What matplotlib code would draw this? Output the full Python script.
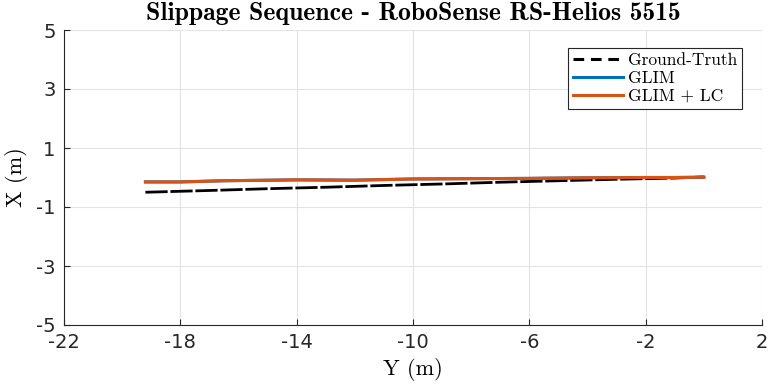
import matplotlib
matplotlib.use("Agg")
import matplotlib.pyplot as plt
from matplotlib.lines import Line2D

gt_y = [-19.2, -17.0, -15.0, -13.0, -11.0, -9.0, -7.0, -5.0, -3.0, -1.0, 0.0]
gt_x = [-0.50, -0.44, -0.38, -0.33, -0.27, -0.22, -0.16, -0.11, -0.06, -0.02, 0.02]

glim_y = [-19.2, -18.0, -16.5, -14.0, -12.0, -10.0, -8.0, -6.0, -4.0, -2.0, -1.0, 0.0]
glim_x = [-0.15, -0.15, -0.11, -0.08, -0.09, -0.05, -0.04, -0.03, -0.01, 0.00, 0.00, 0.01]

lc_y = [-19.2, -18.0, -16.5, -14.0, -12.0, -10.0, -8.0, -6.0, -4.0, -2.0, -1.0, 0.0]
lc_x = [-0.15, -0.15, -0.11, -0.08, -0.09, -0.05, -0.04, -0.03, -0.01, 0.00, 0.00, 0.01]

xticks = [-22, -18, -14, -10, -6, -2, 2]
yticks = [-5, -3, -1, 1, 3, 5]

fig = plt.figure(figsize=(7.68, 3.89), dpi=100)
ax = fig.add_axes([64/768, 1-325/389, 698/768, 295/389])

ax.plot(gt_y, gt_x, color='black', lw=2.0, dashes=(8, 1.0))
ax.plot(glim_y, glim_x, color='#0072BD', lw=2.2)
ax.plot(lc_y, lc_x, color='#D95319', lw=2.2)

ax.set_xlim(-22, 2)
ax.set_ylim(-5, 5)
ax.set_xticks(xticks)
ax.set_yticks(yticks)
tf = dict(family='DejaVu Sans', size=14)
ax.set_xticklabels([str(t) for t in xticks], **tf)
ax.set_yticklabels([str(t) for t in yticks], **tf)
ax.tick_params(direction='in', length=4, colors='#262626', pad=6)
ax.grid(True, color='#e3e3e3', lw=0.8)
ax.set_axisbelow(True)
for s in ['top', 'right']:
    ax.spines[s].set_visible(False)
for s in ['left', 'bottom']:
    ax.spines[s].set_color('#262626')

ax.set_xlabel('Y (m)', family='cmr10', size=16, labelpad=4)
ax.set_ylabel('X (m)', family='cmr10', size=16, labelpad=6)
ax.set_title('Slippage Sequence - RoboSense RS-Helios 5515', family='cmb10', size=18.5, pad=7)

handles = [Line2D([], [], color='black', lw=2.2, dashes=(3.5, 2.2)),
           Line2D([], [], color='#0072BD', lw=2.2),
           Line2D([], [], color='#D95319', lw=2.2)]
leg = ax.legend(handles, ['Ground-Truth', 'GLIM', 'GLIM + LC'],
                loc='upper right', bbox_to_anchor=(0.984, 0.97),
                prop=dict(family='cmr10', size=12.5), fancybox=False,
                edgecolor='#262626', framealpha=1, handlelength=2.9,
                handletextpad=0.25, borderpad=0.3, labelspacing=0.15)
leg.get_frame().set_linewidth(0.8)

fig.savefig('out.png', dpi=100)
